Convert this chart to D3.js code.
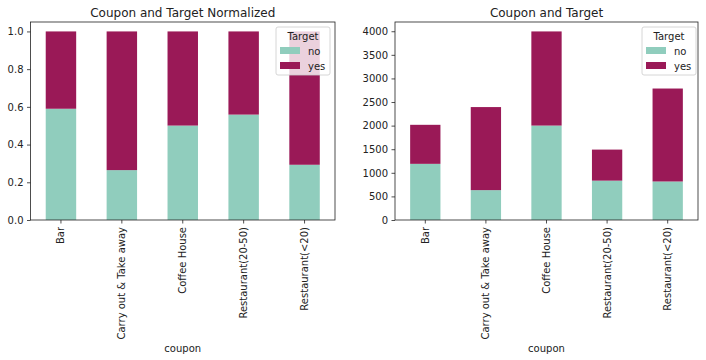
<!DOCTYPE html>
<html><head><meta charset="utf-8">
<script src="https://cdn.jsdelivr.net/npm/d3@7"></script>
<style>body{margin:0;background:#fff}svg{display:block;font-family:"DejaVu Sans",sans-serif}</style>
</head><body><svg id="c" width="706" height="360"></svg>
<script>
const categories = ["Bar","Carry out & Take away","Coffee House","Restaurant(20-50)","Restaurant(<20)"];
const noCounts = [1190, 633, 2001, 834, 816];
const yesCounts = [827, 1760, 1995, 658, 1970];
const seriesNames = ["no","yes"];
const colors = ["#90cdbd","#9a1957"];
const yTicksNorm = [0,0.2,0.4,0.6,0.8,1.0];
const yTicksCount = [0,500,1000,1500,2000,2500,3000,3500,4000];

const svg = d3.select("#c");
const ink = "#222";

function drawPanel(opt){
  const {x0,x1,y0,y1,title,rows,ymax,ticks,fmt,legendX} = opt;
  const g = svg.append("g");
  const x = d3.scaleBand().domain(categories).range([x0,x1]).paddingInner(0.5).paddingOuter(0.25);
  const y = d3.scaleLinear().domain([0,ymax]).range([y1,y0]);
  const stack = d3.stack().keys(seriesNames)(rows);
  stack.forEach((s,i)=>{
    g.append("g").selectAll("rect").data(s).join("rect")
      .attr("x",d=>x(d.data.cat)).attr("width",x.bandwidth())
      .attr("y",d=>y(d[1])).attr("height",d=>y(d[0])-y(d[1]))
      .attr("fill",colors[i]);
  });
  // frame
  g.append("rect").attr("x",x0).attr("y",y0).attr("width",x1-x0).attr("height",y1-y0)
    .attr("fill","none").attr("stroke",ink).attr("stroke-width",0.8);
  // y axis
  const ya = g.append("g").attr("transform",`translate(${x0},0)`)
    .call(d3.axisLeft(y).tickValues(ticks).tickFormat(fmt).tickSize(3.5).tickPadding(3.5));
  ya.select(".domain").remove();
  ya.selectAll("line").attr("stroke",ink).attr("stroke-width",0.8);
  ya.selectAll("text").attr("font-size",10).attr("fill",ink).attr("font-family","DejaVu Sans");
  // x axis
  const xa = g.append("g").attr("transform",`translate(0,${y1})`)
    .call(d3.axisBottom(x).tickSize(3.5).tickPadding(3.5));
  xa.select(".domain").remove();
  xa.selectAll("line").attr("stroke",ink).attr("stroke-width",0.8);
  xa.selectAll("text").attr("font-size",10).attr("fill",ink).attr("font-family","DejaVu Sans")
    .attr("transform","rotate(-90)").attr("text-anchor","end").attr("dy","0.35em")
    .attr("x",-7).attr("y",0);
  // title
  g.append("text").attr("x",(x0+x1)/2).attr("y",y0-5).attr("text-anchor","middle")
    .attr("font-size",12).attr("fill",ink).text(title);
  // x label
  g.append("text").attr("x",(x0+x1)/2).attr("y",352).attr("text-anchor","middle")
    .attr("font-size",10).attr("fill",ink).text("coupon");
  // legend
  const lg = g.append("g").attr("transform",`translate(${legendX},27)`);
  lg.append("rect").attr("x",0).attr("y",0).attr("width",54).attr("height",48).attr("rx",2)
    .attr("fill","#fff").attr("fill-opacity",0.8).attr("stroke","#ccc").attr("stroke-width",0.8);
  lg.append("text").attr("x",27).attr("y",13).attr("text-anchor","middle").attr("font-size",10)
    .attr("fill",ink).text("Target");
  seriesNames.forEach((n,i)=>{
    lg.append("rect").attr("x",4).attr("y",20+i*15).attr("width",20).attr("height",7).attr("fill",colors[i]);
    lg.append("text").attr("x",32).attr("y",27.5+i*15).attr("font-size",10).attr("fill",ink).text(n);
  });
}

const rowsCount = categories.map((c,i)=>({cat:c,no:noCounts[i],yes:yesCounts[i]}));
const rowsNorm = categories.map((c,i)=>{const t=noCounts[i]+yesCounts[i];return {cat:c,no:noCounts[i]/t,yes:yesCounts[i]/t};});

drawPanel({x0:30.5,x1:335,y0:22,y1:220,title:"Coupon and Target Normalized",rows:rowsNorm,
  ymax:1.05,ticks:yTicksNorm,fmt:d3.format(".1f"),legendX:276});
const maxTot = d3.max(rowsCount,d=>d.no+d.yes);
drawPanel({x0:395,x1:698,y0:22,y1:220,title:"Coupon and Target",rows:rowsCount,
  ymax:maxTot*1.05,ticks:yTicksCount,fmt:d3.format("d"),legendX:642});
</script></body></html>
